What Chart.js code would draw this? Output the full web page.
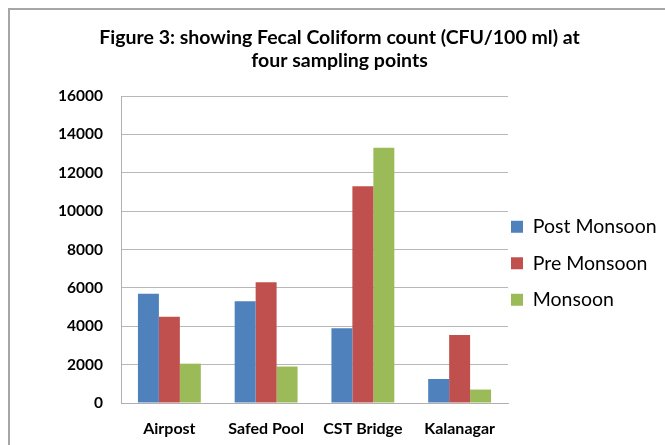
<!DOCTYPE html>
<html>
<head>
<meta charset="utf-8">
<script src="https://cdn.jsdelivr.net/npm/chart.js@4/dist/chart.umd.min.js"></script>
<style>
  html, body { margin: 0; padding: 0; background: #ffffff; }
  #wrap { position: relative; width: 665px; height: 445px; }
</style>
</head>
<body>
<div id="wrap"><canvas id="c" width="665" height="445"></canvas></div>
<script>
const categories = ["Airpost", "Safed Pool", "CST Bridge", "Kalanagar"];
const seriesNames = ["Post Monsoon", "Pre Monsoon", "Monsoon"];
const postMonsoon = [5700, 5300, 3900, 1250];
const preMonsoon = [4500, 6300, 11300, 3550];
const monsoon = [2050, 1900, 13300, 700];
const yTicks = [0, 2000, 4000, 6000, 8000, 10000, 12000, 14000, 16000];
const titleLines = ["Figure 3: showing Fecal Coliform count (CFU/100 ml) at", "four sampling points"];

const colors = ["#4F81BD", "#C0504D", "#9BBB59"];
const LEGEND_PAD = 17;

const frame = {
  id: 'frame',
  beforeDraw(chart) {
    const ctx = chart.ctx;
    ctx.save();
    ctx.fillStyle = '#ffffff';
    ctx.fillRect(0, 0, chart.width, chart.height);
    ctx.fillStyle = '#a6a6a6';
    ctx.fillRect(8, 8, chart.width - 8, 2);
    ctx.fillRect(8, 8, 2, chart.height - 8);
    ctx.restore();
  }
};

const legendPlace = {
  id: 'legendPlace',
  afterLayout(chart) {
    const L = chart.legend, ca = chart.chartArea;
    if (!L) return;
    const h = L.height;
    L.left = ca.right + 3 - LEGEND_PAD;
    L.right = chart.width;
    L.width = L.right - L.left;
    L.top = ca.top + 104;
    L.bottom = L.top + h;
  }
};

new Chart(document.getElementById('c'), {
  type: 'bar',
  data: {
    labels: categories,
    datasets: [
      { label: seriesNames[0], data: postMonsoon, backgroundColor: colors[0] },
      { label: seriesNames[1], data: preMonsoon, backgroundColor: colors[1] },
      { label: seriesNames[2], data: monsoon, backgroundColor: colors[2] }
    ]
  },
  options: {
    responsive: false,
    animation: false,
    devicePixelRatio: 1,
    layout: { padding: { left: 14, right: 0, top: 10, bottom: 8 } },
    datasets: { bar: { categoryPercentage: 0.65, barPercentage: 1.0 } },
    plugins: {
      title: {
        display: true,
        text: titleLines,
        color: '#000000',
        font: { family: 'Lato', size: 19.5, weight: 'bold', lineHeight: 1.18 },
        padding: { top: 16, bottom: 24 }
      },
      legend: {
        position: 'right',
        align: 'start',
        maxWidth: 157,
        labels: {
          color: '#000000',
          font: { family: 'Lato', size: 19.5 },
          boxWidth: 12,
          boxHeight: 12,
          padding: LEGEND_PAD
        }
      },
      tooltip: { enabled: false }
    },
    scales: {
      x: {
        afterFit(scale) { scale.height = 34; },
        grid: { display: false, drawTicks: false },
        border: { display: true, color: '#b0b0b0', width: 1 },
        ticks: { color: '#000000', font: { family: 'Lato', size: 16, weight: 'bold' }, padding: 16 }
      },
      y: {
        min: 0, max: 16000,
        afterBuildTicks(scale) { scale.ticks = yTicks.map(v => ({ value: v })); },
        afterFit(scale) { scale.width = 107; },
        grid: { color: '#b8b8b8', drawTicks: false },
        border: { display: true, color: '#b0b0b0' },
        ticks: {
          color: '#000000',
          font: { family: 'Lato', size: 15.5, weight: 'bold' },
          padding: 18,
          callback: v => String(v)
        }
      }
    }
  },
  plugins: [frame, legendPlace]
});
</script>
</body>
</html>
